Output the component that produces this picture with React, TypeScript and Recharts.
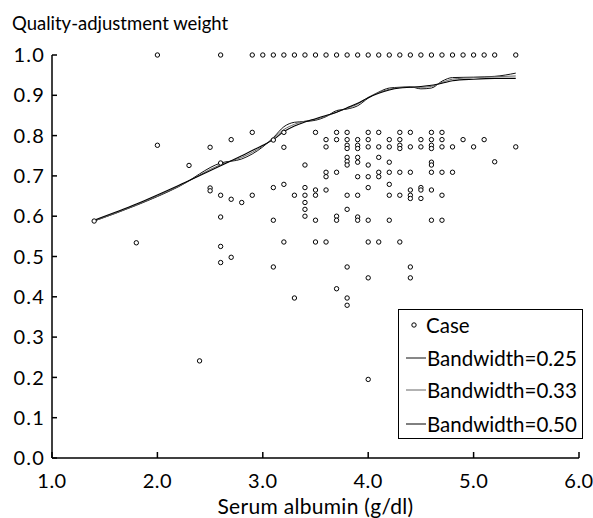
import {
  ComposedChart,
  Scatter,
  Line,
  XAxis,
  YAxis,
  Legend,
} from 'recharts';

if (typeof document !== 'undefined') document.body.style.margin = '0';

// observed cases: [serum albumin, quality-adjustment weight]
const cases: [number, number][] = [
  [1.4, 0.588], [1.8, 0.534],
  [2.0, 1.0], [2.0, 0.776], [2.3, 0.726], [2.4, 0.241],
  [2.5, 0.771], [2.5, 0.670], [2.5, 0.663],
  [2.6, 1.0], [2.6, 0.732], [2.6, 0.652], [2.6, 0.598], [2.6, 0.525], [2.6, 0.485],
  [2.7, 0.790], [2.7, 0.642], [2.7, 0.498], [2.8, 0.634],
  [2.9, 1.0], [2.9, 0.808], [2.9, 0.652], [3.0, 1.0],
  [3.1, 1.0], [3.1, 0.789], [3.1, 0.671], [3.1, 0.590], [3.1, 0.474],
  [3.2, 1.0], [3.2, 0.808], [3.2, 0.771], [3.2, 0.679], [3.2, 0.536],
  [3.3, 1.0], [3.3, 0.652], [3.3, 0.397],
  [3.4, 1.0], [3.4, 0.727], [3.4, 0.671], [3.4, 0.652], [3.4, 0.634], [3.4, 0.617], [3.4, 0.600],
  [3.5, 1.0], [3.5, 0.808], [3.5, 0.665], [3.5, 0.652], [3.5, 0.590], [3.5, 0.536],
  [3.6, 1.0], [3.6, 0.790], [3.6, 0.772], [3.6, 0.709], [3.6, 0.698], [3.6, 0.665], [3.6, 0.536],
  [3.7, 1.0], [3.7, 0.808], [3.7, 0.790], [3.7, 0.709], [3.7, 0.600], [3.7, 0.590], [3.7, 0.420],
  [3.8, 1.0], [3.8, 0.808], [3.8, 0.790], [3.8, 0.776], [3.8, 0.768], [3.8, 0.746], [3.8, 0.736],
  [3.8, 0.727], [3.8, 0.652], [3.8, 0.617], [3.8, 0.474], [3.8, 0.397], [3.8, 0.379],
  [3.9, 1.0], [3.9, 0.790], [3.9, 0.776], [3.9, 0.768], [3.9, 0.746], [3.9, 0.734], [3.9, 0.698],
  [3.9, 0.652], [3.9, 0.598], [3.9, 0.590],
  [4.0, 1.0], [4.0, 0.808], [4.0, 0.790], [4.0, 0.772], [4.0, 0.727], [4.0, 0.698], [4.0, 0.671],
  [4.0, 0.590], [4.0, 0.536], [4.0, 0.447], [4.0, 0.195],
  [4.1, 1.0], [4.1, 0.808], [4.1, 0.772], [4.1, 0.746], [4.1, 0.709], [4.1, 0.698], [4.1, 0.536],
  [4.2, 1.0], [4.2, 0.790], [4.2, 0.772], [4.2, 0.734], [4.2, 0.709], [4.2, 0.679], [4.2, 0.652], [4.2, 0.590],
  [4.3, 1.0], [4.3, 0.808], [4.3, 0.790], [4.3, 0.776], [4.3, 0.768], [4.3, 0.709], [4.3, 0.652], [4.3, 0.536],
  [4.4, 1.0], [4.4, 0.808], [4.4, 0.772], [4.4, 0.709], [4.4, 0.665], [4.4, 0.652], [4.4, 0.644],
  [4.4, 0.474], [4.4, 0.447],
  [4.5, 1.0], [4.5, 0.790], [4.5, 0.772], [4.5, 0.671], [4.5, 0.665], [4.5, 0.644],
  [4.6, 1.0], [4.6, 0.808], [4.6, 0.790], [4.6, 0.776], [4.6, 0.768], [4.6, 0.734], [4.6, 0.727],
  [4.6, 0.709], [4.6, 0.665], [4.6, 0.590],
  [4.7, 1.0], [4.7, 0.808], [4.7, 0.790], [4.7, 0.772], [4.7, 0.709], [4.7, 0.652], [4.7, 0.590],
  [4.8, 1.0], [4.8, 0.772], [4.8, 0.709],
  [4.9, 1.0], [4.9, 0.790], [5.0, 1.0], [5.0, 0.772],
  [5.1, 1.0], [5.1, 0.790], [5.2, 1.0], [5.2, 0.735],
  [5.4, 1.0], [5.4, 0.772],
];

// smoothed curves
const smoothX = [1.4, 1.8, 2.2, 2.6, 2.8, 3.0, 3.1, 3.2, 3.3, 3.4, 3.5, 3.6, 3.7, 3.8, 3.9, 4.0, 4.1, 4.2, 4.3, 4.4, 4.5, 4.6, 4.7, 4.8, 5.0, 5.2, 5.4];
const bw025 = [0.588, 0.627, 0.673, 0.732, 0.742, 0.772, 0.795, 0.822, 0.833, 0.835, 0.838, 0.847, 0.862, 0.866, 0.874, 0.893, 0.908, 0.918, 0.920, 0.921, 0.916, 0.918, 0.935, 0.944, 0.945, 0.947, 0.955];
const bw033 = [0.588, 0.628, 0.674, 0.728, 0.746, 0.774, 0.793, 0.815, 0.828, 0.836, 0.840, 0.848, 0.858, 0.868, 0.878, 0.895, 0.907, 0.915, 0.919, 0.920, 0.920, 0.922, 0.932, 0.940, 0.944, 0.946, 0.948];
const bw050 = [0.590, 0.630, 0.676, 0.725, 0.750, 0.776, 0.790, 0.810, 0.824, 0.834, 0.842, 0.850, 0.858, 0.869, 0.880, 0.894, 0.905, 0.913, 0.918, 0.920, 0.922, 0.925, 0.930, 0.936, 0.940, 0.942, 0.942];

const xTicks = [1, 2, 3, 4, 5, 6];
const yTicks = [0, 0.1, 0.2, 0.3, 0.4, 0.5, 0.6, 0.7, 0.8, 0.9, 1.0];

const FONT = 'Lato, "Open Sans", sans-serif';

const caseData = cases.map(([x, y]) => ({ x, y }));
const toRows = (ys: number[]) => smoothX.map((x, i) => ({ x, y: ys[i] }));

const curves = [
  { name: 'Bandwidth=0.25', color: '#111', width: 1, data: toRows(bw025) },
  { name: 'Bandwidth=0.33', color: '#666', width: 1, data: toRows(bw033) },
  { name: 'Bandwidth=0.50', color: '#000', width: 1.1, data: toRows(bw050) },
];

const CaseDot = (props: any) => (
  <circle cx={props.cx} cy={props.cy} r={2.2} fill="#fff" stroke="#000" strokeWidth={1} />
);

// legend row centres, measured from the box top
const legendRowTops = [15, 48, 80, 114];

const LegendBox = () => (
  <div
    style={{
      position: 'relative',
      border: '1.5px solid #000',
      background: '#fff',
      width: 185,
      height: 130,
      boxSizing: 'border-box',
      fontFamily: FONT,
      fontSize: 20.5,
      color: '#000',
    }}
  >
    <div style={{ position: 'absolute', top: legendRowTops[0] - 13, left: 0, display: 'flex', alignItems: 'center', height: 26 }}>
      <svg width={27} height={10}>
        <circle cx={15} cy={5} r={2.2} fill="#fff" stroke="#000" />
      </svg>
      <span>Case</span>
    </div>
    {curves.map((c, i) => (
      <div
        key={c.name}
        style={{ position: 'absolute', top: legendRowTops[i + 1] - 13, left: 0, display: 'flex', alignItems: 'center', height: 26 }}
      >
        <svg width={28} height={10}>
          <line x1={7} x2={27} y1={5} y2={5} stroke={c.color} strokeWidth={1} />
        </svg>
        <span>{c.name}</span>
      </div>
    ))}
  </div>
);

export default function App() {
  return (
    <div style={{ position: 'relative', width: 593, height: 518, background: '#fff' }}>
      <div
        style={{
          position: 'absolute',
          left: 12,
          top: 12,
          fontFamily: FONT,
          fontSize: 18.5,
          color: '#000',
        }}
      >
        Quality-adjustment weight
      </div>
      <ComposedChart width={593} height={518} margin={{ top: 55, right: 14, bottom: 10, left: 0 }}>
        <XAxis
          dataKey="x"
          type="number"
          domain={[1, 6]}
          ticks={xTicks}
          tickFormatter={(v: number) => v.toFixed(1)}
          allowDataOverflow
          height={50}
          stroke="#000"
          strokeWidth={1.5}
          tickSize={-6}
          tickMargin={22}
          tick={{ fontFamily: FONT, fontSize: 20, fill: '#000', letterSpacing: 0.5 }}
          label={{
            value: 'Serum albumin (g/dl)',
            position: 'insideBottom',
            offset: -6,
            fontFamily: FONT,
            fontSize: 21,
            letterSpacing: 0.3,
            fill: '#000',
          }}
        />
        <YAxis
          dataKey="y"
          type="number"
          domain={[0, 1]}
          ticks={yTicks}
          tickFormatter={(v: number) => v.toFixed(1)}
          width={52}
          stroke="#000"
          strokeWidth={1.5}
          tickSize={-5}
          tickMargin={12}
          tick={{ fontFamily: FONT, fontSize: 20, fill: '#000', letterSpacing: 1.2 }}
        />
        <Scatter data={caseData} dataKey="y" shape={CaseDot} isAnimationActive={false} />
        {curves.map((c) => (
          <Line
            key={c.name}
            data={c.data}
            dataKey="y"
            type="monotone"
            stroke={c.color}
            strokeWidth={c.width}
            dot={false}
            activeDot={false}
            isAnimationActive={false}
          />
        ))}
        <Legend
          verticalAlign="middle"
          align="center"
          content={() => <LegendBox />}
          wrapperStyle={{ left: 398, top: 309, width: 185 }}
        />
      </ComposedChart>
    </div>
  );
}
